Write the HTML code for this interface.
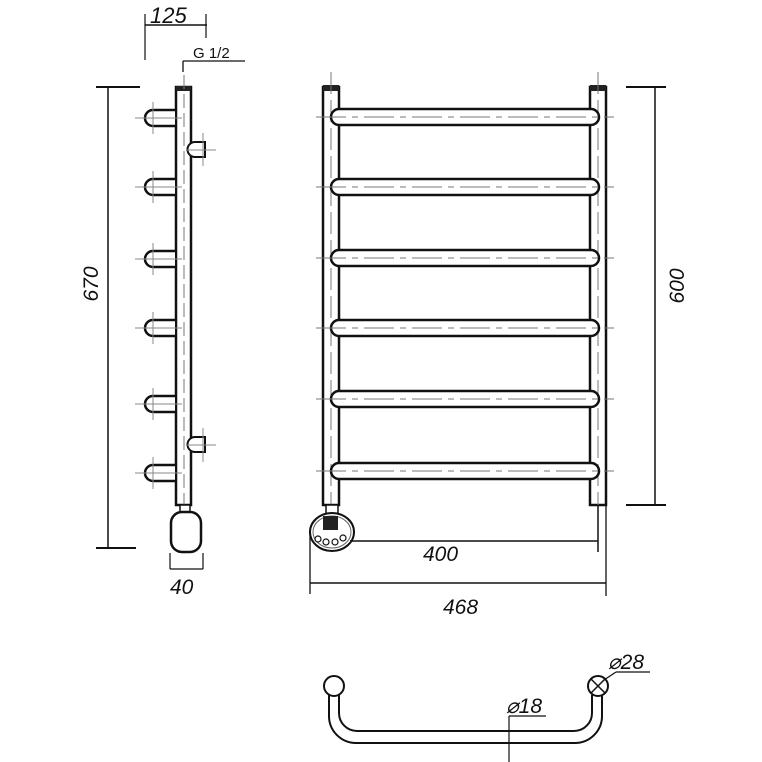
<!DOCTYPE html>
<html><head><meta charset="utf-8"><style>html,body{margin:0;padding:0;background:#fff}svg{display:block}text{font-family:"Liberation Sans",sans-serif;font-style:italic;fill:#111}</style></head>
<body>
<svg width="762" height="762" viewBox="0 0 762 762" xmlns="http://www.w3.org/2000/svg">
<defs>
<g id="hook">
  <path d="M175,-8 H153 A8,8 0 0 0 153,8 H175" fill="#fff" stroke="#111" stroke-width="2.5"/>
  <line x1="135" y1="0" x2="182" y2="0" stroke="#888" stroke-width="1"/>
  <line x1="153" y1="-16" x2="153" y2="16" stroke="#888" stroke-width="1"/>
</g>
<g id="rail">
  <rect x="331" y="-8" width="268" height="16" rx="8" fill="#fff" stroke="#111" stroke-width="2.5"/>
  <line x1="316" y1="0" x2="614" y2="0" stroke="#777" stroke-width="1" stroke-dasharray="30,6,6,6"/>
</g>
</defs>
<line x1="145" y1="25" x2="207" y2="25" stroke="#111" stroke-width="1.5"/>
<line x1="145" y1="14" x2="145" y2="60" stroke="#111" stroke-width="1.2"/>
<line x1="206" y1="14" x2="206" y2="38" stroke="#111" stroke-width="1.2"/>
<text x="150" y="23" font-size="22">125</text>
<text x="193" y="58" font-size="15" style="font-style:normal">G 1/2</text>
<line x1="183" y1="61" x2="245" y2="61" stroke="#111" stroke-width="1.3"/>
<line x1="183" y1="61" x2="183" y2="72" stroke="#111" stroke-width="1.3"/>
<rect x="176" y="87" width="15" height="418" fill="#fff" stroke="#111" stroke-width="2.5"/>
<rect x="176" y="86" width="15" height="5" fill="#222"/>
<line x1="184" y1="75" x2="184" y2="505" stroke="#777" stroke-width="1" stroke-dasharray="14,5"/>
<use href="#hook" transform="translate(0,118)"/>
<use href="#hook" transform="translate(0,187)"/>
<use href="#hook" transform="translate(0,259)"/>
<use href="#hook" transform="translate(0,328)"/>
<use href="#hook" transform="translate(0,404)"/>
<use href="#hook" transform="translate(0,473)"/>
<g stroke="#111" stroke-width="2" fill="#fff">
<path d="M205,142 H195 A7,7 0 0 0 195,157 H205 Z"/>
<path d="M205,437 H195 A7,7 0 0 0 195,452 H205 Z"/>
</g>
<g stroke="#888" stroke-width="1">
<line x1="186" y1="150" x2="216" y2="150"/><line x1="203" y1="133" x2="203" y2="166"/>
<line x1="186" y1="445" x2="216" y2="445"/><line x1="203" y1="428" x2="203" y2="462"/>
</g>
<rect x="180" y="505" width="10" height="7" fill="#fff" stroke="#111" stroke-width="1.5"/>
<rect x="171" y="512" width="30" height="40" rx="11" fill="#fff" stroke="#111" stroke-width="2.5"/>
<line x1="170" y1="553" x2="170" y2="569" stroke="#111" stroke-width="1.2"/>
<line x1="203" y1="553" x2="203" y2="569" stroke="#111" stroke-width="1.2"/>
<line x1="170" y1="569" x2="203" y2="569" stroke="#111" stroke-width="1.2"/>
<text x="170" y="594" font-size="21">40</text>
<line x1="108" y1="87" x2="108" y2="548" stroke="#111" stroke-width="1.5"/>
<line x1="96" y1="87" x2="140" y2="87" stroke="#111" stroke-width="2"/>
<line x1="96" y1="548" x2="136" y2="548" stroke="#111" stroke-width="2"/>
<text transform="translate(98,284) rotate(-90)" font-size="21" text-anchor="middle">670</text>
<rect x="323" y="87" width="16" height="418" fill="#fff" stroke="#111" stroke-width="2.5"/>
<rect x="323" y="85" width="16" height="6" fill="#222"/>
<rect x="590" y="87" width="16" height="418" fill="#fff" stroke="#111" stroke-width="2.5"/>
<rect x="590" y="85" width="16" height="6" fill="#222"/>
<line x1="331" y1="72" x2="331" y2="510" stroke="#777" stroke-width="1" stroke-dasharray="22,6"/>
<line x1="598" y1="72" x2="598" y2="505" stroke="#777" stroke-width="1" stroke-dasharray="22,6"/>
<use href="#rail" transform="translate(0,117)"/>
<use href="#rail" transform="translate(0,187)"/>
<use href="#rail" transform="translate(0,258)"/>
<use href="#rail" transform="translate(0,328)"/>
<use href="#rail" transform="translate(0,399)"/>
<use href="#rail" transform="translate(0,471)"/>
<rect x="326" y="505" width="12" height="9" fill="#fff" stroke="#111" stroke-width="1.5"/>
<ellipse cx="332" cy="532" rx="22" ry="19" fill="#fff" stroke="#111" stroke-width="2"/>
<ellipse cx="332" cy="532" rx="19" ry="16" fill="none" stroke="#666" stroke-width="1"/>
<rect x="323" y="516" width="15" height="14" fill="#222"/>
<g fill="#fff" stroke="#111" stroke-width="1.2">
<circle cx="318" cy="539" r="3"/><circle cx="326" cy="542" r="3"/><circle cx="335" cy="542" r="3"/><circle cx="343" cy="538" r="3"/>
</g>
<line x1="350" y1="541" x2="598" y2="541" stroke="#111" stroke-width="1.5"/>
<line x1="598" y1="505" x2="598" y2="552" stroke="#111" stroke-width="1.5"/>
<text x="423" y="561" font-size="21">400</text>
<line x1="310" y1="583" x2="606" y2="583" stroke="#111" stroke-width="1.5"/>
<line x1="310" y1="530" x2="310" y2="594" stroke="#111" stroke-width="1.3"/>
<line x1="606" y1="505" x2="606" y2="596" stroke="#111" stroke-width="1.3"/>
<text x="443" y="614" font-size="21">468</text>
<line x1="655" y1="87" x2="655" y2="505" stroke="#111" stroke-width="1.5"/>
<line x1="626" y1="87" x2="666" y2="87" stroke="#111" stroke-width="2"/>
<line x1="626" y1="505" x2="666" y2="505" stroke="#111" stroke-width="2"/>
<text transform="translate(684,286) rotate(-90)" font-size="21" text-anchor="middle">600</text>
<path d="M329,695 V716 A27,27 0 0 0 356,743 H575 A27,27 0 0 0 602,716 V695" fill="none" stroke="#111" stroke-width="2"/>
<path d="M339,695 V713 A18,18 0 0 0 357,731 H574 A18,18 0 0 0 592,713 V695" fill="none" stroke="#111" stroke-width="2"/>
<circle cx="334" cy="686" r="10" fill="#fff" stroke="#111" stroke-width="2"/>
<circle cx="598" cy="686" r="10" fill="#fff" stroke="#111" stroke-width="2"/>
<line x1="591" y1="679" x2="605" y2="693" stroke="#111" stroke-width="1.5"/>
<line x1="605" y1="679" x2="591" y2="693" stroke="#111" stroke-width="1.5"/>
<line x1="604" y1="680" x2="616" y2="672" stroke="#111" stroke-width="1.2"/>
<line x1="616" y1="672" x2="650" y2="672" stroke="#111" stroke-width="1.2"/>
<text x="608" y="669" font-size="21">⌀28</text>
<line x1="509" y1="716" x2="546" y2="716" stroke="#111" stroke-width="1.2"/>
<line x1="509" y1="716" x2="509" y2="762" stroke="#111" stroke-width="1.2"/>
<text x="506" y="713" font-size="21">⌀18</text>
</svg>
</body></html>
